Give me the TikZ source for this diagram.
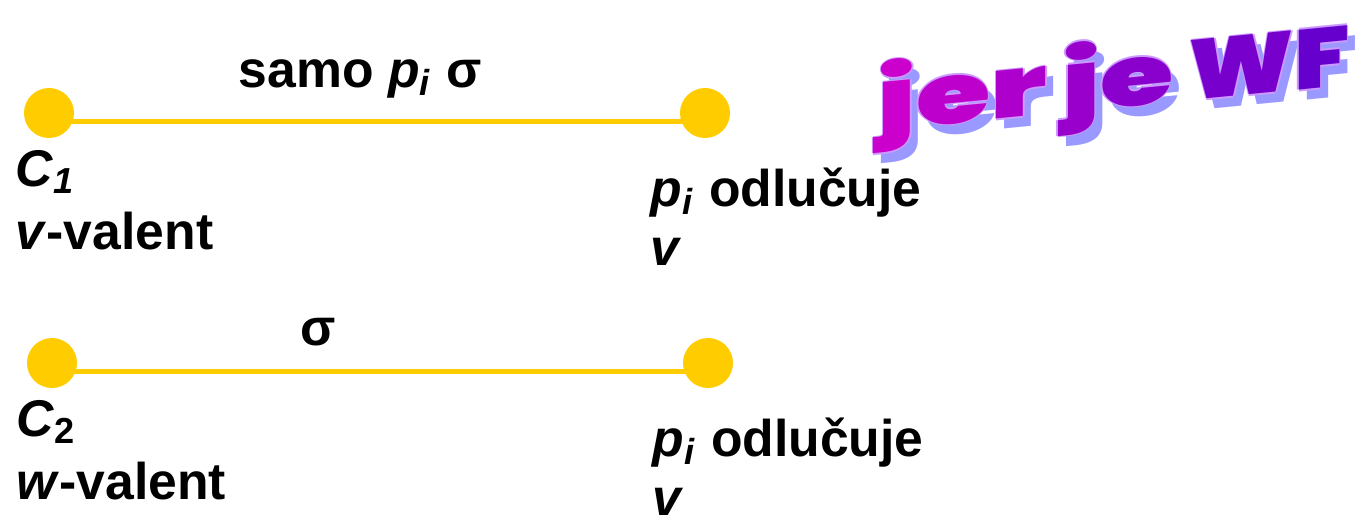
\documentclass[tikz,border=0pt]{standalone}
\usepackage{graphicx}
\usepackage{fontspec}
\setmainfont{Liberation Sans}
\newfontfamily\wordartfont{Poppins}[UprightFont={* Black}, BoldFont={* Black}]
\usetikzlibrary{backgrounds}

\definecolor{dotyellow}{HTML}{FFCC00}
\definecolor{wfmagenta}{HTML}{CC00CC}
\definecolor{wfpurple}{HTML}{6600CC}
\definecolor{wfshade}{HTML}{9999FF}
\definecolor{wfrim}{HTML}{CC99FF}

\begin{document}
\begin{tikzpicture}[x=0.1mm, y=-0.1mm,
    font=\fontsize{14.7pt}{18pt}\selectfont\bfseries,
    dot/.style={circle, fill=dotyellow, inner sep=0pt, minimum size=5mm},
    bond/.style={draw=dotyellow, line width=0.5mm},
    lbl/.style={anchor=base west, inner sep=0pt},
    wordart/.style={anchor=base west, inner sep=0pt, yslant=0.097,
        font=\wordartfont\fontsize{24pt}{29pt}\selectfont}]
    % --- Define Coordinates and Parameters ---
    \def\rowgap{250}    % vertical distance between the two runs
    \def\wfx{877}       % start of the "jer je WF" banner
    \def\wfy{131}
    \def\wfgap{\hspace{0.18em}}
    % widening of each word of the banner
    \def\wfjer{1.43}
    \def\wfje{1.41}
    \def\wfWF{1.14}
    \def\wfplain{\scalebox{\wfjer}[1]{jer}\wfgap\scalebox{\wfje}[1]{je}\wfgap\scalebox{\wfWF}[1]{WF}}

    \useasboundingbox (0,0) rectangle (1363,515);

    % --- First Run (C_1) ---
    \node[dot] (c1) at (49,113) {};
    \node[dot] (p1) at (705,113) {};
    \node[lbl] (samo) at (238,87) {samo \textit{p}\textsubscript{\textit{i}} σ};
    \node[lbl] (c1name) at (15,186) {\textit{C}\textsubscript{\textit{1}}};
    \node[lbl] (c1val) at (15,249) {\textit{v}-valent};
    \node[lbl] (p1dec) at (650,206) {\textit{p}\textsubscript{\textit{i}} odlučuje};
    \node[lbl] (p1val) at (650,265) {\textit{v}};

    % --- Second Run (C_2), shifted down by \rowgap ---
    \node[dot] (c2) at (52,113+\rowgap) {};
    \node[dot] (p2) at (708,113+\rowgap) {};
    \node[lbl] (sigma) at (300,95+\rowgap) {σ};
    \node[lbl] (c2name) at (16,186+\rowgap) {\textit{C}\textsubscript{2}};
    \node[lbl] (c2val) at (16,249+\rowgap) {\textit{w}-valent};
    \node[lbl] (p2dec) at (652,206+\rowgap) {\textit{p}\textsubscript{\textit{i}} odlučuje};
    \node[lbl] (p2val) at (652,265+\rowgap) {\textit{v}};

    % --- Bonds, kept behind the dots and a little below their centres ---
    \begin{scope}[on background layer]
        \draw[bond] ([yshift=-0.8mm]c1.center) -- ([yshift=-0.8mm]p1.center);
        \draw[bond] ([yshift=-0.8mm]c2.center) -- ([yshift=-0.8mm]p2.center);
    \end{scope}

    % --- Banner: shadow, rim, then the coloured letters ---
    \node[wordart, text=wfshade] (wfshadow) at (\wfx+8,\wfy+10) {\wfplain};
    \foreach \a in {0,90,180,270}
        \node[wordart, text=wfrim] (wfrim\a) at ([shift={(\a:1.6)}]\wfx,\wfy) {\wfplain};
    \node[wordart] (wf) at (\wfx,\wfy)
        {\scalebox{\wfjer}[1]{\color{wfmagenta}j\color{wfpurple!15!wfmagenta}e\color{wfpurple!30!wfmagenta}r}\wfgap
         \scalebox{\wfje}[1]{\color{wfpurple!50!wfmagenta}j\color{wfpurple!65!wfmagenta}e}\wfgap
         \scalebox{\wfWF}[1]{\color{wfpurple!82!wfmagenta}W\color{wfpurple}F}};

\end{tikzpicture}
\end{document}
